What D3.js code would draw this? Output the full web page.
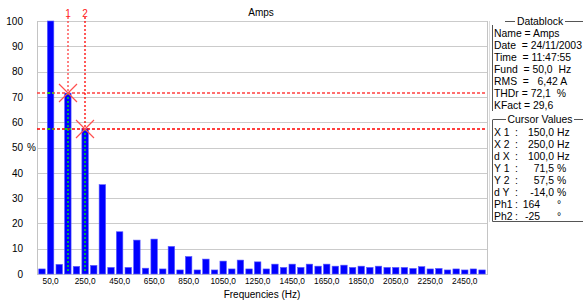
<!DOCTYPE html>
<html><head><meta charset="utf-8">
<script src="https://cdn.jsdelivr.net/npm/d3@7"></script>
<style>
body{margin:0;background:#fff;}
svg{display:block;font-family:"Liberation Sans",Arial,sans-serif;}
text{white-space:pre;}
</style></head>
<body><div id="chart"></div>
<script>
const frequencies = d3.range(0, 2551, 50);
const amplitudes = [2.0,100,3.8,71.5,3.0,57.5,3.4,35.3,2.6,16.7,2.6,13.4,2.3,13.8,2.0,10.9,1.6,6.9,1.6,5.9,
  1.6,5.1,2.0,5.5,2.0,4.8,2.0,3.9,2.6,3.9,2.6,3.9,3.1,3.9,3.1,3.5,2.6,3.1,2.6,3.1,
  2.6,2.6,2.6,2.2,2.9,2.0,2.2,1.6,2.0,1.6,2.0,1.6];
const xTickFreqs = [50,250,450,650,850,1050,1250,1450,1650,1850,2050,2250,2450];
const yTicks = [0,10,20,30,40,50,60,70,80,90,100];
const cursors = [{id:"1", freq:150, value:71.5, color:"#ff4040"},{id:"2", freq:250, value:57.5, color:"#ff0000"}];
const datablockLines = ["Name = Amps","Date  = 24/11/2003","Time  = 11:47:55","Fund  = 50,0  Hz","RMS  =   6,42 A","THDr = 72,1  %","KFact = 29,6"];
const cursorLabels = ["X 1","X 2","d X","Y 1","Y 2","d Y","Ph1","Ph2"];
const cursorNums = ["150,0","250,0","100,0","71,5","57,5","-14,0","164","-25"];
const cursorUnits = ["Hz","Hz","Hz","%","%","%","°","°"];

const W=583,H=302;
const L=37,R=487,T=21,B=274;
const svg=d3.select("#chart").append("svg").attr("width",W).attr("height",H);
const data=frequencies.map((f,i)=>({f,v:amplitudes[i]}));

const x=d3.scaleBand().domain(frequencies).range([L,R]).paddingInner(0.25).paddingOuter(0.2);
const y=d3.scaleLinear().domain([0,100]).range([B,T]);
const cx=f=>x(f)+x.bandwidth()/2;

// title
svg.append("text").attr("x",261).attr("y",16).attr("text-anchor","middle").attr("font-size",10).attr("fill","#000").text("Amps");

// grid
svg.append("g").selectAll("line").data(yTicks).join("line")
  .attr("x1",L).attr("x2",R).attr("y1",d=>Math.round(y(d))+0.5).attr("y2",d=>Math.round(y(d))+0.5)
  .attr("stroke","#cbcbcb").attr("stroke-width",1);
svg.append("line").attr("x1",L+0.5).attr("x2",L+0.5).attr("y1",T).attr("y2",B+1).attr("stroke","#c4c4c4");
svg.append("line").attr("x1",R+0.5).attr("x2",R+0.5).attr("y1",T).attr("y2",B+1).attr("stroke","#c4c4c4");

// y axis labels
const yAxis=d3.axisLeft(y).tickValues(yTicks).tickSize(0).tickPadding(0).tickFormat(d3.format("d"));
const ya=svg.append("g").attr("transform",`translate(${L-14},0)`).call(yAxis);
ya.select(".domain").remove();
ya.selectAll("text").attr("font-size",10).attr("font-family","Liberation Sans, Arial, sans-serif").attr("fill","#000");
svg.append("text").attr("x",27).attr("y",y(50)+3.5).attr("font-size",10).text("%");

// bars
svg.append("g").selectAll("rect").data(data).join("rect")
  .attr("x",d=>x(d.f)).attr("width",x.bandwidth())
  .attr("y",d=>y(d.v)).attr("height",d=>B-y(d.v))
  .attr("fill","#0000ff").attr("stroke","#5a5aff").attr("stroke-width",0.6);

// x axis labels
const xAxis=d3.axisBottom(x).tickValues(xTickFreqs).tickSize(0).tickPadding(0).tickFormat(d=>d3.format(".1f")(d).replace(".",","));
const xa=svg.append("g").attr("transform",`translate(0,${B+3})`).call(xAxis);
xa.select(".domain").remove();
xa.selectAll("text").attr("font-size",8.3).attr("font-family","Liberation Sans, Arial, sans-serif").attr("fill","#000").attr("dy","0.8em");
svg.append("text").attr("x",262).attr("y",298).attr("text-anchor","middle").attr("font-size",10).text("Frequencies (Hz)");

// cursors
const cg=svg.append("g");
cursors.forEach(c=>{
  const xc=Math.round(cx(c.freq)), yc=Math.round(y(c.value));
  cg.append("line").attr("x1",L).attr("x2",R).attr("y1",yc).attr("y2",yc)
    .attr("stroke",c.color).attr("stroke-width",1.4).attr("stroke-dasharray","3,2");
  data.filter(d=>d.v>c.value && d.f!==c.freq).forEach(d=>{
    cg.append("line").attr("x1",x(d.f)).attr("x2",x(d.f)+x.bandwidth()).attr("y1",yc).attr("y2",yc)
      .attr("stroke","#00ff00").attr("stroke-width",1.4).attr("stroke-dasharray","3,2");
  });
  cg.append("line").attr("x1",xc).attr("x2",xc).attr("y1",17).attr("y2",yc)
    .attr("stroke",c.color).attr("stroke-width",1.3).attr("stroke-dasharray","2,2");
  cg.append("line").attr("x1",xc).attr("x2",xc).attr("y1",yc).attr("y2",B-2)
    .attr("stroke","#00ff00").attr("stroke-width",1.3).attr("stroke-dasharray","2,2");
  const s=9;
  cg.append("path").attr("d",`M${xc-s},${yc-s}L${xc+s},${yc+s}M${xc-s},${yc+s}L${xc+s},${yc-s}`)
    .attr("stroke","#ff5050").attr("stroke-width",1.2).attr("fill","none");
  cg.append("text").attr("x",xc).attr("y",17).attr("text-anchor","middle").attr("font-size",10)
    .attr("fill","#ff2020").text(c.id);
});

// right panel
const p=svg.append("g").attr("font-size",10.4).attr("fill","#000");
svg.append("line").attr("x1",489.5).attr("x2",489.5).attr("y1",21).attr("y2",222).attr("stroke","#dcdcdc");
const gx=492.5;
p.append("path").attr("d",`M505,21.5H515M565,21.5H583M${gx},25V111`).attr("stroke","#555").attr("fill","none");
p.append("text").attr("x",540).attr("y",25).attr("text-anchor","middle").text("Datablock");
datablockLines.forEach((t,i)=>p.append("text").attr("x",494).attr("y",37+i*12).text(t));
p.append("path").attr("d",`M${gx},119.5H506M574,119.5H583M${gx},120V221.5H583`).attr("stroke","#555").attr("fill","none");
p.append("text").attr("x",540).attr("y",123).attr("text-anchor","middle").text("Cursor Values");
cursorLabels.forEach((t,i)=>{
  const yy=136+i*12;
  p.append("text").attr("x",494).attr("y",yy).text(t);
  p.append("text").attr("x",515).attr("y",yy).text(":");
  p.append("text").attr("x",i<6?554:540).attr("y",yy).attr("text-anchor","end").text(cursorNums[i]);
  p.append("text").attr("x",557).attr("y",yy).text(cursorUnits[i]);
});
</script></body></html>
